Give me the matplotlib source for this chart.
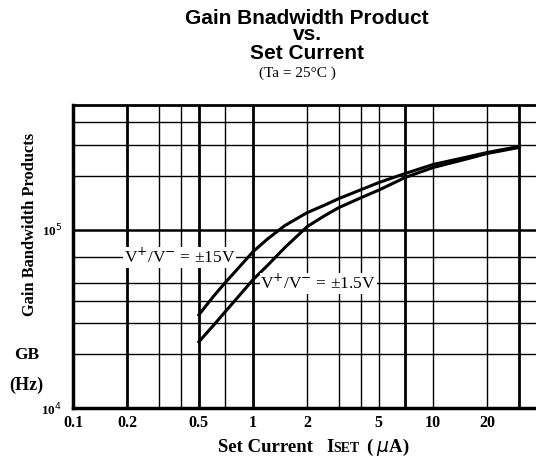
import matplotlib
matplotlib.use("Agg")
import matplotlib.pyplot as plt
from matplotlib.ticker import FixedLocator, NullFormatter, NullLocator

# set current (uA) and gain bandwidth product (Hz)
iset = [0.5, 0.6, 0.7, 0.8, 1, 1.2, 1.5, 2, 2.5, 3, 4, 5, 7, 10, 15, 20, 30]
gb_15v = [3.33e4, 4.20e4, 5.04e4, 5.85e4, 7.52e4, 8.84e4, 1.053e5, 1.246e5, 1.373e5,
          1.494e5, 1.678e5, 1.837e5, 2.064e5, 2.318e5, 2.538e5, 2.708e5, 2.927e5]
gb_1v5 = [2.35e4, 2.89e4, 3.46e4, 4.04e4, 5.24e4, 6.28e4, 7.92e4, 1.040e5, 1.198e5,
          1.330e5, 1.513e5, 1.667e5, 1.960e5, 2.230e5, 2.474e5, 2.673e5, 2.888e5]

x_ticks = [0.1, 0.2, 0.5, 1, 2, 5, 10, 20]
x_labels = ["0.1", "0.2", "0.5", "1", "2", "5", "10", "20"]
x_grid = [0.2, 0.3, 0.4, 0.5, 0.7, 1, 2, 3, 4, 5, 7, 10, 20, 30]
x_heavy = [0.2, 0.5, 1, 7, 30]
y_grid = [2e4, 3e4, 4e4, 5e4, 7e4, 1e5, 2e5, 3e5, 4e5]
y_heavy = [1e5]

serif = "Liberation Serif"
sans = "Liberation Sans"

fig = plt.figure(figsize=(5.36, 4.61), dpi=100)
W, H = 536, 461
ax = fig.add_axes([73 / W, 1 - 408 / H, (W - 73) / W, (408 - 105) / H])
ax.set_xscale("log")
ax.set_yscale("log")
ax.set_xlim(0.1, 0.1 * 10 ** ((W - 73) / 180))
ax.set_ylim(1e4, 5e5)

for v in x_grid:
    ax.axvline(v, color="black", lw=2.0 if v in x_heavy else 1.0, zorder=1)
for v in y_grid:
    ax.axhline(v, color="black", lw=1.8 if v in y_heavy else 1.0, zorder=1)

ax.plot(iset, gb_15v, color="black", lw=2.2, zorder=3, solid_joinstyle="round")
ax.plot(iset, gb_1v5, color="black", lw=2.2, zorder=3, solid_joinstyle="round")

box = dict(facecolor="white", edgecolor="none", pad=0.5)
ax.text(0.39, 7e4, "V$^{+}$/V$^{-}$ = ±15V", ha="center", va="center",
        fontsize=12.5, family=serif, bbox=box, zorder=4)
ax.text(2.3, 5e4, "V$^{+}$/V$^{-}$ = ±1.5V", ha="center", va="center",
        fontsize=12.5, family=serif, bbox=box, zorder=4)

ax.xaxis.set_major_locator(FixedLocator(x_ticks))
ax.set_xticklabels(x_labels, fontsize=11.5, family=serif, fontweight="bold")
ax.xaxis.set_minor_locator(NullLocator())
ax.xaxis.set_minor_formatter(NullFormatter())
ax.yaxis.set_major_locator(FixedLocator([1e4, 1e5]))
ax.set_yticklabels(["10$^4$", "10$^5$"], fontsize=9.5, fontweight="bold")
ax.yaxis.set_minor_locator(NullLocator())
ax.tick_params(axis="x", length=0, pad=5)
ax.tick_params(axis="y", length=0, pad=8)
for lab in ax.get_yticklabels():
    lab.set_family(serif)

ax.spines["left"].set_linewidth(2.5)
ax.spines["bottom"].set_linewidth(2.5)
ax.spines["top"].set_linewidth(2.0)
ax.spines["right"].set_visible(False)

# title block: first two lines share one text so their tight spacing is kept
fig.text(307 / W, 1 - 9 / H, "Gain Bnadwidth Product\nvs.", ha="center", va="top",
         ma="center", linespacing=0.8, fontsize=15, family=sans, fontweight="bold")
fig.text(307 / W, 1 - 59 / H, "Set Current", ha="center", va="baseline",
         fontsize=15, family=sans, fontweight="bold")
fig.text(297 / W, 1 - 77 / H, "(Ta = 25°C )", ha="center", va="baseline",
         fontsize=11, family=serif)

fig.text(30 / W, 1 - 224 / H, "Gain Bandwidth Products", rotation=90, ha="center",
         va="center", fontsize=11.8, family=serif, fontweight="bold")
fig.text(27 / W, 1 - 355 / H, "GB", ha="center", va="center",
         fontsize=12.5, family=serif, fontweight="bold")
fig.text(26 / W, 1 - 385 / H, "(Hz)", ha="center", va="center",
         fontsize=13, family=serif, fontweight="bold")

yb = 1 - 452 / H
fig.text(218 / W, yb, "Set Current", ha="left", va="baseline",
         fontsize=13.5, family=serif, fontweight="bold")
fig.text(326 / W, yb, "I", ha="left", va="baseline",
         fontsize=13.5, family=serif, fontweight="bold")
fig.text(333 / W, yb, "SET", ha="left", va="baseline",
         fontsize=10, family=serif, fontweight="bold")
fig.text(366 / W, yb, "( $\\mu$A)", ha="left", va="baseline",
         fontsize=13.5, family=serif, fontweight="bold")

fig.savefig("out.png", dpi=100)
